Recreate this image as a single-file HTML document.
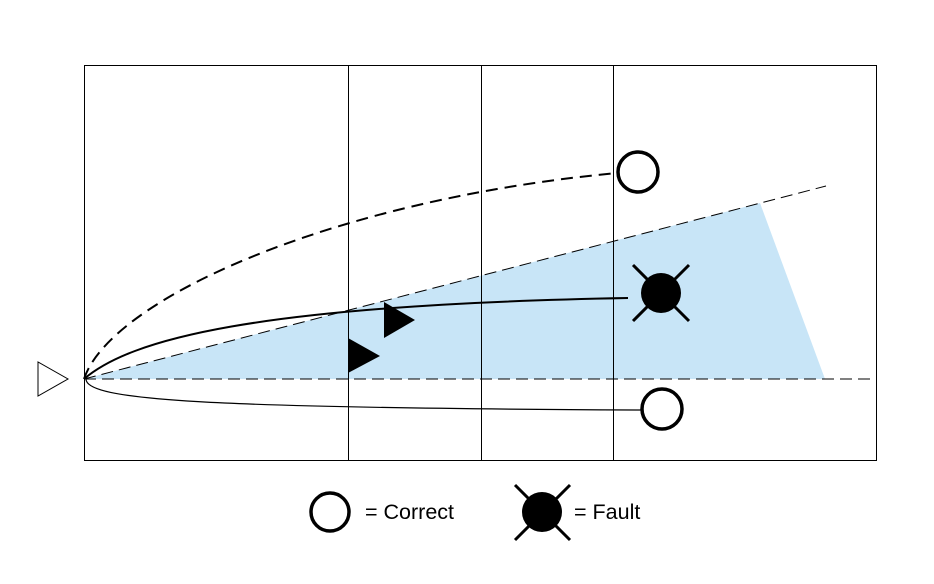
<!DOCTYPE html>
<html><head><meta charset="utf-8"><style>html,body{margin:0;padding:0;background:#fff;width:934px;height:584px;overflow:hidden}</style></head>
<body>
<svg width="934" height="584" viewBox="0 0 934 584" xmlns="http://www.w3.org/2000/svg">
<rect width="934" height="584" fill="#fff"/>
<polygon points="84,379 760,203 825,379" fill="#c8e5f7"/>
<rect x="84.5" y="65.5" width="792" height="395" fill="none" stroke="#000" stroke-width="1"/>
<line x1="348.5" y1="65" x2="348.5" y2="460" stroke="#000"/>
<line x1="481.5" y1="65" x2="481.5" y2="460" stroke="#000"/>
<line x1="613.5" y1="65" x2="613.5" y2="460" stroke="#000"/>
<line x1="84" y1="379" x2="826" y2="186" stroke="#000" stroke-width="1" stroke-dasharray="12,6"/>
<line x1="84" y1="379" x2="872" y2="379" stroke="#000" stroke-width="1" stroke-dasharray="12,6"/>
<path d="M84,379 C110,300 330,200 617,173" fill="none" stroke="#000" stroke-width="2" stroke-dasharray="12,7"/>
<path d="M84,379 C130,340 250,305 628,298" fill="none" stroke="#000" stroke-width="2"/>
<path d="M86,379 C86,400 200,408 641,410" fill="none" stroke="#000" stroke-width="1.2"/>
<polygon points="384,302 384,338 415,320" fill="#000"/>
<polygon points="348,338 348,373 380,356" fill="#000"/>
<polygon points="38,362 38,396 68,379" fill="#fff" stroke="#000" stroke-width="1"/>
<circle cx="638" cy="172" r="20" fill="#fff" stroke="#000" stroke-width="3.5"/>
<circle cx="662" cy="409" r="20" fill="#fff" stroke="#000" stroke-width="3.5"/>
<line x1="633" y1="265" x2="689" y2="321" stroke="#000" stroke-width="3"/>
<line x1="689" y1="265" x2="633" y2="321" stroke="#000" stroke-width="3"/>
<circle cx="661" cy="293" r="20" fill="#000"/>
<circle cx="330" cy="512" r="19" fill="#fff" stroke="#000" stroke-width="3.5"/>
<text x="365" y="519" font-family="Liberation Sans, sans-serif" font-size="21.5" fill="#000">= Correct</text>
<line x1="515" y1="485" x2="570" y2="540" stroke="#000" stroke-width="3"/>
<line x1="570" y1="485" x2="515" y2="540" stroke="#000" stroke-width="3"/>
<circle cx="542" cy="512" r="20" fill="#000"/>
<text x="574" y="519" font-family="Liberation Sans, sans-serif" font-size="21.5" fill="#000">= Fault</text>
</svg>
</body></html>
